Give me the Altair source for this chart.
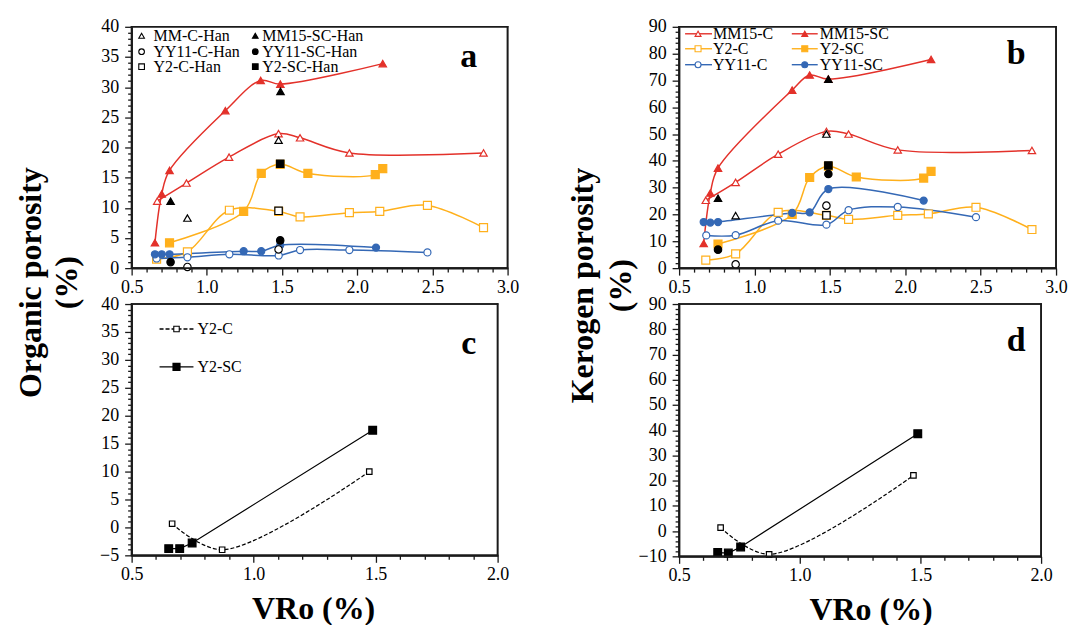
import altair as alt
import pandas as pd

SERIF = "Liberation Serif"
RED = "#E3312A"
ORANGE = "#FFB01C"
BLUE = "#3468B5"
BLACK = "#000000"

# ---------------- panel a: organic porosity (%) vs VRo (%) ----------------
a_mm15_c_vro = [0.67, 0.865, 1.148, 1.477, 1.62, 1.948, 2.84]
a_mm15_c_val = [11.1, 14.1, 18.4, 22.3, 21.6, 19.1, 19.1]
a_mm15_sc_vro = [0.655, 0.70, 0.752, 1.123, 1.358, 1.489, 2.17]
a_mm15_sc_val = [4.2, 12.3, 16.2, 26.1, 31.1, 30.5, 33.9]
a_y2_c_vro = [0.666, 0.871, 1.15, 1.478, 1.62, 1.948, 2.15, 2.467, 2.84]
a_y2_c_val = [1.5, 2.7, 9.6, 9.4, 8.5, 9.2, 9.4, 10.4, 6.7]
a_y2_sc_vro = [0.752, 1.245, 1.362, 1.488, 1.672, 2.12, 2.17]
a_y2_sc_val = [4.2, 9.4, 15.7, 17.2, 15.7, 15.5, 16.5]
a_yy11_c_vro = [0.666, 0.871, 1.15, 1.478, 1.62, 1.948, 2.467]
a_yy11_c_val = [1.6, 1.8, 2.3, 2.1, 3.0, 3.0, 2.6]
a_yy11_sc_vro = [0.655, 0.70, 0.752, 1.245, 1.362, 1.488, 2.125]
a_yy11_sc_val = [2.3, 2.3, 2.3, 2.8, 2.8, 3.8, 3.4]

# Han et al. reference samples (black markers)
a_han_mmc_vro, a_han_mmc_val = [0.871, 1.477], [8.3, 21.2]
a_han_mmsc_vro, a_han_mmsc_val = [0.759, 1.49], [11.1, 29.3]
a_han_yyc_vro, a_han_yyc_val = [0.871, 1.477], [0.2, 3.1]
a_han_yysc_vro, a_han_yysc_val = [0.759, 1.488], [1.0, 4.6]
a_han_y2c_vro, a_han_y2c_val = [1.477], [9.5]
a_han_y2sc_vro, a_han_y2sc_val = [1.488], [17.3]

# ---------------- panel b: kerogen porosity (%) vs VRo (%) ----------------
b_mm15_c_vro = [0.677, 0.875, 1.157, 1.477, 1.624, 1.95, 2.84]
b_mm15_c_val = [25.3, 32.0, 42.5, 51.0, 50.0, 44.1, 43.9]
b_mm15_sc_vro = [0.663, 0.707, 0.758, 1.25, 1.366, 1.49, 2.171]
b_mm15_sc_val = [9.2, 28.0, 37.3, 66.4, 72.0, 70.5, 77.8]
b_y2_c_vro = [0.677, 0.875, 1.157, 1.477, 1.624, 1.95, 2.153, 2.469, 2.84]
b_y2_c_val = [3.0, 5.3, 20.8, 19.7, 18.2, 19.7, 20.2, 22.7, 14.4]
b_y2_sc_vro = [0.758, 1.25, 1.366, 1.49, 1.675, 2.122, 2.171]
b_y2_sc_val = [9.0, 20.0, 33.8, 38.0, 34.0, 33.6, 36.1]
b_yy11_c_vro = [0.68, 0.875, 1.157, 1.477, 1.624, 1.95, 2.469]
b_yy11_c_val = [12.2, 12.3, 17.7, 16.2, 21.6, 22.8, 19.0]
b_yy11_sc_vro = [0.663, 0.707, 0.758, 1.25, 1.366, 1.49, 2.122]
b_yy11_sc_val = [17.2, 17.0, 17.2, 20.6, 20.8, 29.5, 25.2]

b_han_mmc_vro, b_han_mmc_val = [0.875, 1.477], [19.6, 50.0]
b_han_mmsc_vro, b_han_mmsc_val = [0.758, 1.49], [26.1, 70.5]
b_han_yyc_vro, b_han_yyc_val = [0.875, 1.477], [1.4, 23.3]
b_han_yysc_vro, b_han_yysc_val = [0.758, 1.49], [6.9, 35.1]
b_han_y2c_vro, b_han_y2c_val = [1.477], [19.7]
b_han_y2sc_vro, b_han_y2sc_val = [1.49], [38.3]

# ---------------- panels c / d: Y2 differences ----------------
c_y2_c_vro, c_y2_c_val = [0.666, 0.871, 1.474], [0.66, -4.0, 10.0]
c_y2_sc_vro, c_y2_sc_val = [0.652, 0.697, 0.748, 1.488], [-3.8, -3.8, -2.8, 17.4]
d_y2_c_vro, d_y2_c_val = [0.672, 0.873, 1.471], [1.4, -9.2, 22.1]
d_y2_sc_vro, d_y2_sc_val = [0.66, 0.704, 0.755, 1.489], [-8.5, -8.7, -6.3, 38.6]

LEGEND_A = ["MM-C-Han", "MM15-SC-Han", "YY11-C-Han", "YY11-SC-Han", "Y2-C-Han", "Y2-SC-Han"]
LEGEND_B = ["MM15-C", "MM15-SC", "Y2-C", "Y2-SC", "YY11-C", "YY11-SC"]
LEGEND_C = ["Y2-C", "Y2-SC"]
LETTERS = ["a", "b", "c", "d"]
Y_TITLE_A = ["Organic porosity", "(%)"]
Y_TITLE_B = ["Kerogen porosity", "(%)"]
X_TITLE = "VRo (%)"

ONE = pd.DataFrame({"k": [0]})
FRAME_COLOR = "#1a1a1a"
FRAME_WIDTH = 1.6


def frame(xs, ys):
    return pd.DataFrame({"vro": xs, "val": ys})


def major_test(step):
    return f"abs(datum.value / {step} - round(datum.value / {step})) < 0.000001"


def make_axis(lo, hi, minor, major, fmt, title=None, **extra):
    n = int(round((hi - lo) / minor))
    vals = [round(lo + i * minor, 3) for i in range(n + 1)]
    test = major_test(major)
    return alt.Axis(
        values=vals, format=fmt,
        labelExpr=f"{test} ? datum.label : ''",
        tickSize={"condition": {"test": test, "value": 7}, "value": 4},
        tickColor=FRAME_COLOR, tickWidth=1.3, domainColor=FRAME_COLOR,
        domainWidth=FRAME_WIDTH, domain=True, ticks=True,
        labelFont=SERIF, labelFontSize=18, labelColor=BLACK,
        labelFlush=False, labelOverlap=False, grid=False,
        title=title, titleFont=SERIF, titleFontSize=32, titleFontWeight="bold",
        titleColor=BLACK, **extra)


def point_layer(df, x, y, shape, color, is_open, size):
    return alt.Chart(df).mark_point(
        shape=shape, filled=True, fill="white" if is_open else color,
        stroke=color, strokeWidth=1.2, size=size, opacity=1,
    ).encode(x=x, y=y)


def line_layer(df, x, y, color, dash=None, interp="catmull-rom", width=1.5):
    kw = dict(color=color, strokeWidth=width, interpolate=interp)
    if dash:
        kw["strokeDash"] = dash
    return alt.Chart(df).mark_line(**kw).encode(x=x, y=y)


def text_at(label, px, py, size=16, weight="normal", align="left"):
    return alt.Chart(ONE).mark_text(
        text=label, font=SERIF, fontSize=size, fontWeight=weight,
        align=align, baseline="middle", color=BLACK,
    ).encode(x=alt.value(px), y=alt.value(py))


def symbol_at(px, py, shape, color, is_open, size):
    return alt.Chart(ONE).mark_point(
        shape=shape, filled=True, fill="white" if is_open else color,
        stroke=color, strokeWidth=1.1, size=size, opacity=1,
    ).encode(x=alt.value(px), y=alt.value(py))


def segment_at(x1, x2, py, color, dash=None, width=1.4):
    kw = dict(color=color, strokeWidth=width)
    if dash:
        kw["strokeDash"] = dash
    return alt.Chart(ONE).mark_rule(**kw).encode(
        x=alt.value(x1), x2=alt.value(x2), y=alt.value(py))


def strip(x1, x2, y1, y2):
    return alt.Chart(ONE).mark_rect(color=FRAME_COLOR, opacity=1).encode(
        x=alt.value(x1), x2=alt.value(x2), y=alt.value(y1), y2=alt.value(y2))


def box(width, height):
    # four thin filled strips forming the plot frame
    h = FRAME_WIDTH / 2
    return [
        strip(-h, width + h, -h, h),
        strip(-h, width + h, height - h, height + h),
        strip(-h, h, -h, height + h),
        strip(width - h, width + h, -h, height + h),
    ]


SHAPES = {"tri": "triangle-up", "cir": "circle", "sq": "square"}


def porosity_panel(series, han, ydom, yminor, ymajor, yaxis_extra, width, height,
                   legend_layers, letter, letter_y):
    x = alt.X("vro:Q", scale=alt.Scale(domain=[0.5, 3.0], nice=False, zero=False),
              axis=make_axis(0.5, 3.0, 0.1, 0.5, ".1f", labelPadding=3))
    y = alt.Y("val:Q", scale=alt.Scale(domain=ydom, nice=False, zero=False),
              axis=make_axis(ydom[0], ydom[1], yminor, ymajor, "d",
                             labelPadding=6, **yaxis_extra))
    layers = []
    for xs, ys, color, shp, is_open, size in series:
        layers.append(line_layer(frame(xs, ys), x, y, color))
    for xs, ys, color, shp, is_open, size in series:
        layers.append(point_layer(frame(xs, ys), x, y, SHAPES[shp], color, is_open, size))
    for xs, ys, shp, is_open in han:
        layers.append(point_layer(frame(xs, ys), x, y, SHAPES[shp], BLACK, is_open, 55))
    layers += legend_layers
    layers.append(text_at(letter, 338, letter_y, size=34, weight="bold", align="center"))
    layers += box(width, height)
    return alt.layer(*layers).properties(width=width, height=height)


# ---- panel a ----
series_a = [
    (a_mm15_c_vro, a_mm15_c_val, RED, "tri", True, 55),
    (a_mm15_sc_vro, a_mm15_sc_val, RED, "tri", False, 55),
    (a_y2_c_vro, a_y2_c_val, ORANGE, "sq", True, 64),
    (a_y2_sc_vro, a_y2_sc_val, ORANGE, "sq", False, 64),
    (a_yy11_c_vro, a_yy11_c_val, BLUE, "cir", True, 50),
    (a_yy11_sc_vro, a_yy11_sc_val, BLUE, "cir", False, 50),
]
han_a = [
    (a_han_mmc_vro, a_han_mmc_val, "tri", True),
    (a_han_mmsc_vro, a_han_mmsc_val, "tri", False),
    (a_han_yyc_vro, a_han_yyc_val, "cir", True),
    (a_han_yysc_vro, a_han_yysc_val, "cir", False),
    (a_han_y2c_vro, a_han_y2c_val, "sq", True),
    (a_han_y2sc_vro, a_han_y2sc_val, "sq", False),
]
legend_a = []
sym_style_a = [("tri", True), ("tri", False), ("cir", True), ("cir", False), ("sq", True), ("sq", False)]
for i, label in enumerate(LEGEND_A):
    row, col = divmod(i, 2)
    ly = [9, 25, 40][row]
    sx, tx = [(10, 22), (124, 131)][col]
    shp, is_open = sym_style_a[i]
    legend_a.append(symbol_at(sx, ly, SHAPES[shp], BLACK, is_open, 32))
    legend_a.append(text_at(label, tx, ly))

panel_a = porosity_panel(
    series_a, han_a, [0, 40], 1, 5,
    dict(title=Y_TITLE_A, titleX=-101, titleY=256, titleAngle=270, titleAlign="center",
         titleBaseline="middle", titleLineHeight=36),
    377, 242, legend_a, LETTERS[0], 30)

# ---- panel b ----
series_b = [
    (b_mm15_c_vro, b_mm15_c_val, RED, "tri", True, 55),
    (b_mm15_sc_vro, b_mm15_sc_val, RED, "tri", False, 55),
    (b_y2_c_vro, b_y2_c_val, ORANGE, "sq", True, 64),
    (b_y2_sc_vro, b_y2_sc_val, ORANGE, "sq", False, 64),
    (b_yy11_c_vro, b_yy11_c_val, BLUE, "cir", True, 50),
    (b_yy11_sc_vro, b_yy11_sc_val, BLUE, "cir", False, 50),
]
han_b = [
    (b_han_mmc_vro, b_han_mmc_val, "tri", True),
    (b_han_mmsc_vro, b_han_mmsc_val, "tri", False),
    (b_han_yyc_vro, b_han_yyc_val, "cir", True),
    (b_han_yysc_vro, b_han_yysc_val, "cir", False),
    (b_han_y2c_vro, b_han_y2c_val, "sq", True),
    (b_han_y2sc_vro, b_han_y2sc_val, "sq", False),
]
legend_b = []
for i, label in enumerate(LEGEND_B):
    row, col = divmod(i, 2)
    ly = [7, 22, 38][row]
    x1, x2, sx, tx = [(6, 33, 19, 34), (113, 139, 126, 141)][col]
    _, _, color, shp, is_open, _ = series_b[i]
    legend_b.append(segment_at(x1, x2, ly, color))
    legend_b.append(symbol_at(sx, ly, SHAPES[shp], color, is_open, 36))
    legend_b.append(text_at(label, tx, ly))

panel_b = porosity_panel(
    series_b, han_b, [0, 90], 2, 10,
    dict(title=Y_TITLE_B, titleX=-97, titleY=259, titleAngle=270, titleAlign="center",
         titleBaseline="middle", titleLineHeight=38),
    378, 242, legend_b, LETTERS[1], 27)


# ---- panels c and d ----
def y2_panel(c_x, c_y, sc_x, sc_y, ydom, yminor, ymajor, width, height, with_legend,
             letter, letter_y, title_x):
    x = alt.X("vro:Q", scale=alt.Scale(domain=[0.5, 2.0], nice=False, zero=False),
              axis=make_axis(0.5, 2.0, 0.1, 0.5, ".1f", title=X_TITLE,
                             labelPadding=3, titlePadding=10, titleX=title_x))
    y = alt.Y("val:Q", scale=alt.Scale(domain=ydom, nice=False, zero=False),
              axis=make_axis(ydom[0], ydom[1], yminor, ymajor, "d", labelPadding=6))
    layers = [
        line_layer(frame(c_x, c_y), x, y, BLACK, dash=[4, 2], width=1.2),
        line_layer(frame(sc_x, sc_y), x, y, BLACK, interp="linear", width=1.2),
        point_layer(frame(c_x, c_y), x, y, "square", BLACK, True, 30),
        point_layer(frame(sc_x, sc_y), x, y, "square", BLACK, False, 60),
    ]
    if with_legend:
        layers += [
            segment_at(28, 62, 25, BLACK, dash=[4, 2]),
            symbol_at(45, 25, "square", BLACK, True, 30),
            text_at(LEGEND_C[0], 66, 25),
            segment_at(28, 62, 63, BLACK),
            symbol_at(45, 63, "square", BLACK, False, 50),
            text_at(LEGEND_C[1], 66, 63),
        ]
    layers.append(text_at(letter, 338, letter_y, size=34, weight="bold", align="center"))
    layers += box(width, height)
    return alt.layer(*layers).properties(width=width, height=height)


panel_c = y2_panel(c_y2_c_vro, c_y2_c_val, c_y2_sc_vro, c_y2_sc_val, [-5, 40], 1, 5,
                   367, 252, True, LETTERS[2], 40, 182)
panel_d = y2_panel(d_y2_c_vro, d_y2_c_val, d_y2_sc_vro, d_y2_sc_val, [-10, 90], 2, 10,
                   363, 253, False, LETTERS[3], 37, 192)

# 2x2 grid placed by plot areas only, so axes and titles sit in the gaps
chart = alt.concat(
    panel_a, panel_b, panel_c, panel_d,
    columns=2, bounds="flush", spacing={"row": 36, "column": 172},
).properties(
    padding={"left": 14, "top": 16, "right": 5, "bottom": 5},
    background="white",
).configure_view(stroke=FRAME_COLOR, strokeWidth=FRAME_WIDTH)

chart.save("out.html", embed_options={"renderer": "svg", "actions": False})
